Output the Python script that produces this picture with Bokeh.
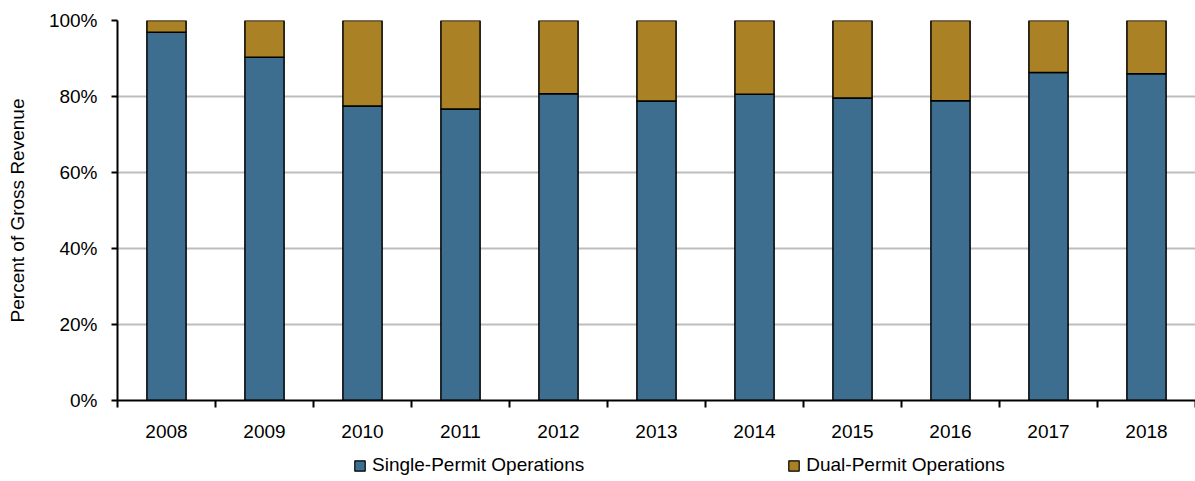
from bokeh.plotting import figure
from bokeh.layouts import column
from bokeh.models import (FixedTicker, PrintfTickFormatter, Legend, LegendItem, Range1d, ColumnDataSource)
from bokeh.embed import file_html
from bokeh.resources import INLINE

years = ["2008", "2009", "2010", "2011", "2012", "2013", "2014", "2015", "2016", "2017", "2018"]
single = [96.9, 90.3, 77.5, 76.7, 80.7, 78.8, 80.6, 79.6, 78.9, 86.3, 86.0]
dual = [round(100 - s, 1) for s in single]
y_ticks = [0, 20, 40, 60, 80, 100]
series = ["Single-Permit Operations", "Dual-Permit Operations"]

FONT = "Liberation Sans, Arial, sans-serif"
BLUE = "#3d6e8f"
GOLD = "#ab8125"

xpos = [i + 0.5 for i in range(len(years))]
src = ColumnDataSource(dict(x=xpos, single=single, dual=dual))

p = figure(width=1195, height=440, output_backend="svg", toolbar_location=None,
           x_range=Range1d(0, len(years)), y_range=Range1d(0, 100),
           min_border_left=117, min_border_right=0, min_border_top=20, min_border_bottom=40)
p.outline_line_color = None

r = p.vbar_stack(["single", "dual"], x="x", width=0.4, source=src,
                 fill_color=[BLUE, GOLD], line_color="black", line_width=1.5)

# y axis
p.yaxis.ticker = FixedTicker(ticks=y_ticks)
p.yaxis.formatter = PrintfTickFormatter(format="%d%%")
p.yaxis.axis_line_color = "black"
p.yaxis.axis_line_width = 2
p.yaxis.major_tick_line_color = "black"
p.yaxis.major_tick_line_width = 2
p.yaxis.major_tick_out = 6
p.yaxis.major_tick_in = 0
p.yaxis.minor_tick_line_color = None
p.yaxis.major_label_standoff = 14
p.yaxis.major_label_text_font = FONT
p.yaxis.major_label_text_font_size = "19px"
p.yaxis.major_label_text_color = "black"
p.yaxis.axis_label = "Percent of Gross Revenue"
p.yaxis.axis_label_text_font = FONT
p.yaxis.axis_label_text_font_size = "19px"
p.yaxis.axis_label_text_font_style = "normal"
p.yaxis.axis_label_text_color = "black"
p.yaxis.axis_label_standoff = 18

# x axis
p.xaxis.ticker = FixedTicker(ticks=xpos, minor_ticks=list(range(len(years) + 1)))
p.xaxis.major_label_overrides = {x: y for x, y in zip(xpos, years)}
p.xaxis.axis_line_color = "black"
p.xaxis.axis_line_width = 2
p.xaxis.major_tick_line_color = None
p.xaxis.major_tick_out = 0
p.xaxis.major_tick_in = 0
p.xaxis.minor_tick_line_color = "black"
p.xaxis.minor_tick_line_width = 2
p.xaxis.minor_tick_out = 7
p.xaxis.minor_tick_in = 0
p.xaxis.major_label_standoff = 17
p.xaxis.major_label_text_font = FONT
p.xaxis.major_label_text_font_size = "19px"
p.xaxis.major_label_text_color = "black"

p.xgrid.grid_line_color = None
p.ygrid.ticker = FixedTicker(ticks=y_ticks[1:])
p.ygrid.grid_line_color = "#bdbdbd"
p.ygrid.grid_line_width = 2

# legend strip below the chart (its frame is aligned with the chart frame)
lg = figure(width=1195, height=41, output_backend="svg", toolbar_location=None,
            x_range=Range1d(0, len(years)), y_range=Range1d(0, 100),
            x_axis_location=None, y_axis_location=None,
            min_border_left=117, min_border_right=0, min_border_top=0, min_border_bottom=0)
lg.grid.visible = False
lg.outline_line_color = None
lr = lg.vbar_stack(["single", "dual"], x="x", width=0.4, source=src,
                   fill_color=[BLUE, GOLD], line_color="black", line_width=1.2, visible=False)

legend = Legend(items=[LegendItem(label=series[0], renderers=[lr[0]]),
                       LegendItem(label=series[1], renderers=[lr[1]])],
                orientation="horizontal", location=(236, 5),
                background_fill_alpha=0, border_line_color=None,
                inactive_fill_alpha=0,
                padding=0, margin=0, spacing=203,
                glyph_width=13, glyph_height=13, label_standoff=6,
                label_text_font=FONT, label_text_font_size="19px", label_text_color="black")
lg.add_layout(legend, "center")

open("out.html", "w").write(file_html(column(p, lg, spacing=0), INLINE))
